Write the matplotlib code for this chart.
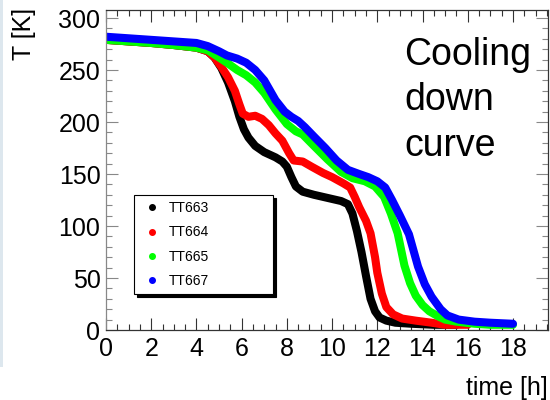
import matplotlib
matplotlib.use("Agg")
import matplotlib.pyplot as plt
from matplotlib.lines import Line2D
from matplotlib.patches import Rectangle
from matplotlib.ticker import MultipleLocator

plt.rcParams['font.family'] = ['Liberation Sans', 'DejaVu Sans']

labels = ["TT663", "TT664", "TT665", "TT667"]
colors = ["black", "#ff0000", "#00ff00", "#0000ff"]

t663 = [0, 1, 2, 3, 4, 4.5, 4.8, 5.1, 5.4, 5.7, 5.9, 6.1, 6.3, 6.6, 7.0, 7.5, 7.8, 8.0, 8.2, 8.4,
        8.7, 9.2, 9.8, 10.4, 10.7, 10.9, 11.1, 11.3, 11.5, 11.7, 11.9, 12.1, 12.4, 12.8, 13.5, 14.5, 15.5]
T663 = [279, 277.5, 276, 274, 271.5, 268, 262, 252, 238, 220, 205, 193, 185, 177, 171, 166, 162, 157, 147, 138,
        133, 130, 127, 124, 121, 112, 95, 75, 52, 30, 18, 12, 9, 7, 6, 5, 5]

t664 = [0, 1, 2, 3, 4, 4.5, 4.8, 5.1, 5.4, 5.7, 5.9, 6.05, 6.3, 6.6, 6.9, 7.2, 7.5, 7.8, 8.1, 8.3,
        8.7, 9.1, 9.6, 10.0, 10.5, 10.8, 11.0, 11.2, 11.5, 11.7, 11.9, 12.0, 12.2, 12.4, 12.7, 13.1, 13.7,
        14.4, 15.0, 16.0]
T664 = [279, 277.5, 276, 274, 271.5, 268, 262, 253, 243, 230, 217, 208, 205, 206, 203, 197, 189, 182, 170, 163,
        162, 157, 151, 147, 141, 137, 128, 118, 105, 93, 70, 55, 35, 22, 15, 11, 9,
        7, 5, 5]

t665 = [0, 1, 2, 3, 4, 4.5, 5.0, 5.35, 5.8, 6.2, 6.6, 7.0, 7.5, 8.0, 8.4, 8.7, 9.2, 9.8, 10.4, 10.9,
        11.45, 11.9, 12.3, 12.6, 12.9, 13.2, 13.45, 13.7, 14.0, 14.3, 14.7, 15.0, 15.5, 16.3, 17, 18]
T665 = [279, 277.5, 276, 274, 271.5, 269, 262, 257, 250, 245, 238, 228, 212, 198, 191, 188, 177, 164, 152, 146,
        143, 138, 128, 112, 93, 62, 45, 33, 24, 18, 13, 10, 8, 6, 5, 5]

t667 = [0, 1, 2, 3, 4, 4.5, 5.0, 5.35, 5.8, 6.2, 6.6, 7.0, 7.5, 7.9, 8.2, 8.5, 8.8, 9.2, 9.7, 10.2,
        10.7, 11.2, 11.6, 12.0, 12.35, 12.65, 13.0, 13.4, 13.8, 14.1, 14.4, 14.8, 15.1, 15.6, 16.3, 17, 18]
T667 = [282, 280.5, 279, 277.5, 276, 273, 268, 264, 261, 257, 250, 240, 221, 210, 205, 201, 195, 186, 175, 163,
        154, 150, 147, 143, 137, 125, 110, 92, 61, 44, 32, 20, 14, 10, 8, 7, 6]

series_t = [t663, t664, t665, t667]
series_T = [T663, T664, T665, T667]

fig = plt.figure(figsize=(5.5, 4), dpi=100)
fig.patch.set_facecolor("white")
fig.patches.append(Rectangle((0, 0.0825), 0.0055, 0.9175, transform=fig.transFigure,
                             facecolor="#dde7ee", edgecolor="none", zorder=0))

ax = fig.add_axes([0.1927, 0.175, 0.8037, 0.80])

for tt, TT, c in zip(series_t, series_T, colors):
    ax.plot(tt, TT, color=c, lw=5.8, solid_capstyle="round", solid_joinstyle="round")

ax.set_xlim(0, 19.55)
ax.set_ylim(0, 307.7)
ax.xaxis.set_major_locator(MultipleLocator(2))
ax.xaxis.set_minor_locator(MultipleLocator(0.5))
ax.yaxis.set_major_locator(MultipleLocator(50))
ax.yaxis.set_minor_locator(MultipleLocator(10))
ax.tick_params(which="both", direction="in", top=True, right=True, width=0.8,
               labelsize=18, colors="#333333", labelcolor="black")
ax.tick_params(which="major", length=8.5)
ax.tick_params(which="minor", length=4)
ax.tick_params(axis="x", which="major", pad=5)
ax.tick_params(axis="y", which="major", pad=4)
ax.tick_params(axis="y", which="both", colors="#888888", labelcolor="black")
for s in ["bottom", "top", "right"]:
    ax.spines[s].set_color("#333333")
ax.spines["left"].set_color("#888888")
for s in ax.spines.values():
    s.set_linewidth(0.9)

fig.text(0.9964, 0.0125, "time [h]", ha="right", va="baseline", fontsize=18)
fig.text(0.044, 0.98, "T [K]", ha="center", va="top", rotation=90, fontsize=18)

ax.text(0.675, 0.915, "Cooling\ndown\ncurve", transform=ax.transAxes, ha="left", va="top",
        fontsize=27, linespacing=1.33)

handles = [Line2D([], [], ls="", marker="o", markersize=4, color=c) for c in colors]
leg = ax.legend(handles, labels, loc="lower left", bbox_to_anchor=(0.063, 0.1125, 0.315, 0.3075),
                mode="expand", borderaxespad=0, fontsize=10, frameon=True, fancybox=False,
                edgecolor="black", framealpha=1, borderpad=0.45, labelspacing=0.73,
                handlelength=1.7, handletextpad=0.35,
                shadow={"color": "black", "alpha": 1})
leg.get_frame().set_linewidth(0.8)

fig.savefig("out.png", dpi=100)
